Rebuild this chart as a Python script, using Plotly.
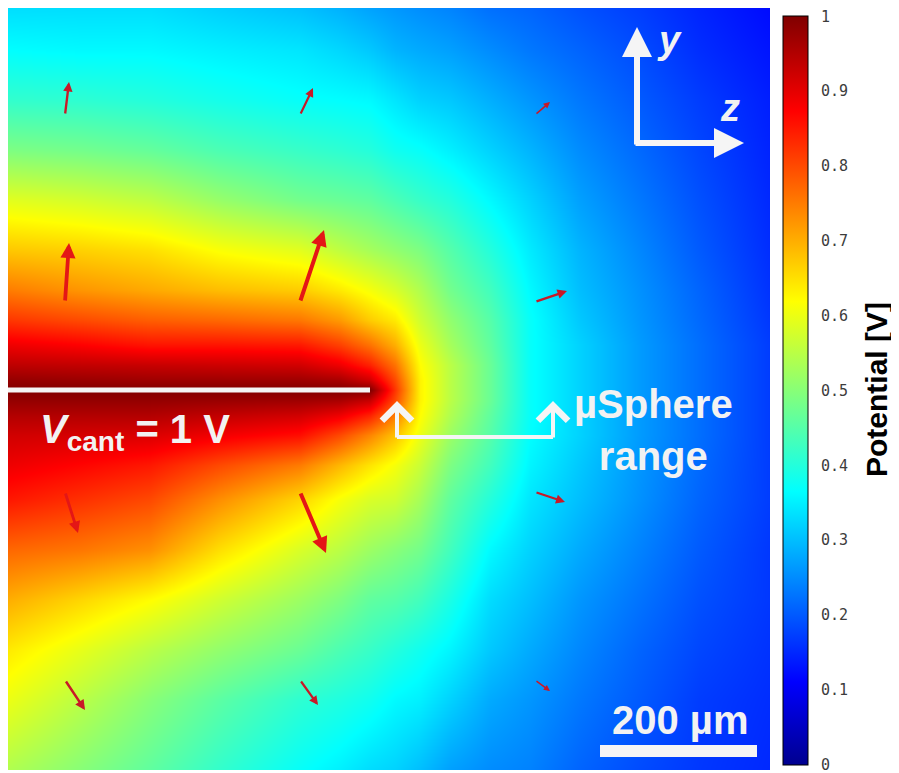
import numpy as np
import plotly.graph_objects as go

# ---------------- data ----------------
# sample positions of the potential map (image-like units, z horizontal, y downward)
z_pos = [8, 80, 150, 220, 300, 340, 370, 395, 420, 450, 490, 530, 580, 640, 700, 770]
y_pos = [5, 50, 100, 150, 200, 250, 290, 320, 345, 365, 380, 390, 400, 415, 435,
         465, 500, 550, 600, 650, 700, 770]

# potential [V] read column by column (top -> bottom)
pot_z008 = [0.33, 0.365, 0.415, 0.49, 0.59, 0.675, 0.75, 0.82, 0.89, 0.94, 0.98, 1.0, 0.98, 0.95, 0.92, 0.89, 0.85, 0.77, 0.70, 0.64, 0.60, 0.54]
pot_z080 = [0.33, 0.36, 0.41, 0.48, 0.575, 0.665, 0.725, 0.80, 0.875, 0.935, 0.975, 1.0, 0.98, 0.95, 0.915, 0.87, 0.825, 0.755, 0.66, 0.595, 0.55, 0.50]
pot_z150 = [0.33, 0.36, 0.40, 0.465, 0.555, 0.65, 0.705, 0.78, 0.855, 0.93, 0.97, 1.0, 0.98, 0.95, 0.91, 0.85, 0.80, 0.73, 0.62, 0.55, 0.50, 0.46]
pot_z220 = [0.315, 0.35, 0.385, 0.44, 0.515, 0.615, 0.685, 0.77, 0.855, 0.925, 0.97, 1.0, 0.975, 0.935, 0.885, 0.80, 0.73, 0.65, 0.57, 0.51, 0.455, 0.415]
pot_z300 = [0.30, 0.34, 0.37, 0.42, 0.48, 0.59, 0.67, 0.755, 0.85, 0.92, 0.97, 1.0, 0.97, 0.92, 0.86, 0.75, 0.66, 0.58, 0.52, 0.47, 0.41, 0.37]
pot_z340 = [0.285, 0.325, 0.365, 0.41, 0.47, 0.555, 0.64, 0.72, 0.81, 0.89, 0.96, 1.0, 0.96, 0.89, 0.80, 0.69, 0.61, 0.55, 0.49, 0.44, 0.395, 0.35]
pot_z370 = [0.27, 0.31, 0.36, 0.40, 0.46, 0.53, 0.61, 0.67, 0.76, 0.84, 0.92, 1.0, 0.93, 0.84, 0.74, 0.645, 0.58, 0.52, 0.46, 0.42, 0.38, 0.33]
pot_z395 = [0.26, 0.29, 0.34, 0.38, 0.44, 0.51, 0.58, 0.64, 0.70, 0.76, 0.80, 0.82, 0.80, 0.75, 0.68, 0.61, 0.57, 0.50, 0.45, 0.40, 0.36, 0.32]
pot_z420 = [0.25, 0.28, 0.32, 0.37, 0.42, 0.49, 0.54, 0.57, 0.60, 0.62, 0.63, 0.63, 0.63, 0.62, 0.60, 0.565, 0.53, 0.48, 0.43, 0.38, 0.35, 0.30]
pot_z450 = [0.24, 0.27, 0.31, 0.35, 0.40, 0.45, 0.48, 0.51, 0.53, 0.55, 0.55, 0.55, 0.55, 0.54, 0.52, 0.49, 0.46, 0.43, 0.39, 0.355, 0.32, 0.27]
pot_z490 = [0.22, 0.25, 0.285, 0.32, 0.36, 0.40, 0.43, 0.45, 0.46, 0.47, 0.47, 0.47, 0.47, 0.46, 0.45, 0.43, 0.40, 0.36, 0.33, 0.31, 0.28, 0.25]
pot_z530 = [0.21, 0.23, 0.26, 0.29, 0.32, 0.345, 0.36, 0.37, 0.37, 0.37, 0.37, 0.37, 0.37, 0.37, 0.365, 0.355, 0.34, 0.32, 0.30, 0.28, 0.26, 0.24]
pot_z580 = [0.19, 0.21, 0.23, 0.25, 0.27, 0.29, 0.30, 0.31, 0.32, 0.32, 0.32, 0.32, 0.32, 0.32, 0.32, 0.31, 0.30, 0.28, 0.26, 0.245, 0.23, 0.21]
pot_z640 = [0.17, 0.185, 0.20, 0.215, 0.23, 0.245, 0.255, 0.26, 0.265, 0.265, 0.265, 0.265, 0.265, 0.265, 0.265, 0.26, 0.255, 0.24, 0.225, 0.21, 0.20, 0.185]
pot_z700 = [0.145, 0.155, 0.17, 0.18, 0.19, 0.20, 0.21, 0.215, 0.22, 0.22, 0.22, 0.22, 0.22, 0.22, 0.22, 0.215, 0.21, 0.20, 0.19, 0.18, 0.17, 0.165]
pot_z770 = [0.12, 0.13, 0.14, 0.145, 0.15, 0.155, 0.16, 0.165, 0.17, 0.17, 0.17, 0.17, 0.17, 0.17, 0.17, 0.17, 0.17, 0.165, 0.165, 0.16, 0.155, 0.15]

# field-arrow grid and vectors (row-major: rows top->bottom, cols left->right)
quiver_z = [65, 300, 535]
quiver_y = [115, 302, 492, 680]
field_dz = [4, 13, 15, 4, 24, 32, 13, 26, 30, 20, 18, 15]
field_dy = [-33, -27, -13, -59, -72, -11, 41, 61, 10, 30, 25, 11]

# cantilever
cant_z = [8, 370]
cant_y = 390

cbar_ticks = [0, 0.1, 0.2, 0.3, 0.4, 0.5, 0.6, 0.7, 0.8, 0.9, 1]
cbar_text = ["0", "0.1", "0.2", "0.3", "0.4", "0.5", "0.6", "0.7", "0.8", "0.9", "1"]

# ---------------- figure ----------------
cols = [pot_z008, pot_z080, pot_z150, pot_z220, pot_z300, pot_z340, pot_z370, pot_z395,
        pot_z420, pot_z450, pot_z490, pot_z530, pot_z580, pot_z640, pot_z700, pot_z770]
Z = np.array(cols).T

jet = [[0, "rgb(0,0,143)"], [0.111, "rgb(0,0,255)"], [0.365, "rgb(0,255,255)"],
       [0.619, "rgb(255,255,0)"], [0.873, "rgb(255,0,0)"], [1, "rgb(128,0,0)"]]

# page has an 8px body margin; figure is sized to fit inside the window
OFF = 8
W, H = 899 - OFF, 773 - OFF
X0, X1, Y0, Y1 = 8, 770, 8, 770          # plot area in page pixels
L, T = X0 - OFF, Y0 - OFF
R, B = W - (X1 - OFF), H - (Y1 - OFF)
pw, ph = X1 - X0, Y1 - Y0

def px(x):
    return (x - X0) / pw

def py(y):
    return (Y1 - y) / ph

EPS = 0.0005
fig = go.Figure()
fig.add_trace(go.Heatmap(
    x=z_pos, y=y_pos, z=Z, zmin=0 - EPS, zmax=1 + EPS, zsmooth="best",
    colorscale=jet, hoverinfo="skip",
    colorbar=dict(
        x=px(783), xanchor="left", xref="paper",
        y=py(16), yanchor="top", len=(765 - 16) / ph, lenmode="fraction",
        thickness=25, thicknessmode="pixels", xpad=0, ypad=0,
        outlinewidth=1, outlinecolor="black",
        tickvals=cbar_ticks, ticktext=cbar_text,
        ticks="outside", ticklen=10, tickcolor="rgba(0,0,0,0)",
        ticklabeloverflow="allow",
        tickfont=dict(family="DejaVu Sans Mono", size=15, color="#3c3c3c"),
    ),
))

shapes = []
shapes.append(dict(type="line", xref="x", yref="y", x0=cant_z[0], x1=cant_z[1],
                   y0=cant_y, y1=cant_y, line=dict(color="rgb(245,245,245)", width=5)))
# bracket base
shapes.append(dict(type="line", xref="x", yref="y", x0=397, x1=553, y0=437, y1=437,
                   line=dict(color="rgb(245,245,245)", width=4)))
# scale bar
shapes.append(dict(type="rect", xref="x", yref="y", x0=600, x1=757, y0=745, y1=757,
                   fillcolor="rgb(245,245,245)", line=dict(width=0)))

ann = []
# field arrows
k = 0
for yq in quiver_y:
    for zq in quiver_z:
        dz, dy = field_dz[k], field_dy[k]
        mag = (dz * dz + dy * dy) ** 0.5
        w = 1.5 + 2.5 * min(1.0, max(0.0, (mag - 18) / 45))
        col = "rgb(228,22,22)" if mag > 40 else "rgb(200,25,40)"
        ann.append(dict(x=zq + dz, y=yq + dy, ax=zq, ay=yq, xref="x", yref="y",
                        axref="x", ayref="y", text="", showarrow=True,
                        arrowhead=2, arrowsize=0.8, arrowwidth=w, arrowcolor=col,
                        standoff=0))
        k += 1

white = "rgb(245,245,245)"
# axis indicator arrows
ann.append(dict(x=637, y=27, ax=637, ay=146, xref="x", yref="y", axref="x", ayref="y",
                text="", showarrow=True, arrowhead=2, arrowsize=1, arrowwidth=6,
                arrowcolor=white, standoff=0))
ann.append(dict(x=744, y=143, ax=634, ay=143, xref="x", yref="y", axref="x", ayref="y",
                text="", showarrow=True, arrowhead=2, arrowsize=1, arrowwidth=6,
                arrowcolor=white, standoff=0))
# bracket arrows
for bx in (397, 553):
    ann.append(dict(x=bx, y=401, ax=bx, ay=439, xref="x", yref="y", axref="x", ayref="y",
                    text="", showarrow=True, arrowhead=4, arrowsize=1.45, arrowwidth=4,
                    arrowcolor=white, standoff=0))

tf = dict(family="Liberation Sans, Arial", color="rgb(242,242,242)")
ann.append(dict(x=669, y=40, xref="x", yref="y", text="<b><i>y</i></b>", showarrow=False,
                font=dict(size=38, **tf)))
ann.append(dict(x=730, y=108, xref="x", yref="y", text="<b><i>z</i></b>", showarrow=False,
                font=dict(size=38, **tf)))
ann.append(dict(x=135, y=432, xref="x", yref="y",
                text="<b><i>V</i><sub>cant</sub> = 1 V</b>", showarrow=False,
                font=dict(size=40, **tf)))
ann.append(dict(x=653, y=430, xref="x", yref="y", text="<b>µSphere<br>range</b>",
                showarrow=False, font=dict(size=40, **tf)))
ann.append(dict(x=680, y=720, xref="x", yref="y", text="<b>200 µm</b>",
                showarrow=False, font=dict(size=40, **tf)))
ann.append(dict(x=px(877), y=py(390), xref="paper", yref="paper",
                xanchor="center", yanchor="middle",
                text="<b>Potential [V]</b>", textangle=-90, showarrow=False,
                font=dict(family="Liberation Sans, Arial", size=30, color="black")))

fig.update_layout(
    width=W, height=H, margin=dict(l=L, r=R, t=T, b=B, autoexpand=False),
    paper_bgcolor="white", plot_bgcolor="white",
    xaxis=dict(range=[X0, X1], visible=False, fixedrange=True),
    yaxis=dict(range=[Y1, Y0], visible=False, fixedrange=True),
    shapes=shapes, annotations=ann, showlegend=False,
)

fig.write_html("out.html")
